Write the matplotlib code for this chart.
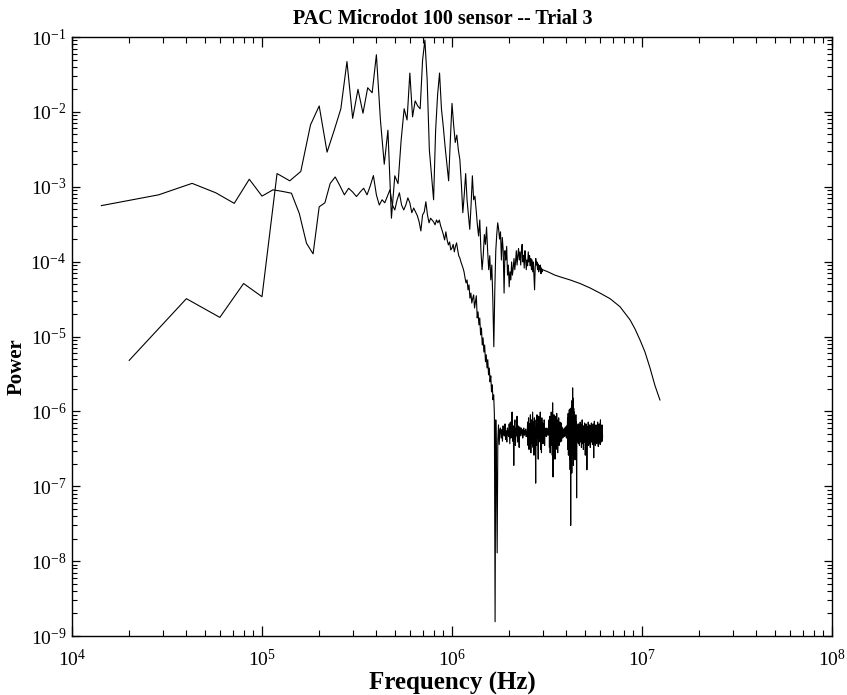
import numpy as np
import matplotlib.pyplot as plt
from matplotlib.ticker import LogLocator, NullFormatter

plt.rcParams['font.family'] = 'serif'
plt.rcParams['font.serif'] = ['Liberation Serif', 'DejaVu Serif']
plt.rcParams['mathtext.fontset'] = 'stix'

# --- series A: flat ~1e-3 spectrum falling into the ~5e-7 noise floor
a_df = 1e5 / 7  # bin spacing (Hz)
a_power = [
    5.6e-4, 7.8e-4, 1.11e-3, 8.3e-4, 6.0e-4, 1.26e-3, 7.5e-4, 9.1e-4, 8.65e-4, 8.2e-4,
    4.4e-4, 1.76e-4, 1.27e-4, 5.4e-4, 6.1e-4, 1.11e-3, 1.35e-3, 1.03e-3, 7.8e-4, 9.55e-4,
    8.5e-4, 7.4e-4, 8.5e-4, 9.55e-4, 7.8e-4, 1.03e-3, 1.41e-3, 7.8e-4, 5.7e-4, 6.7e-4,
    6.1e-4, 7.5e-4, 9.1e-4, 5.7e-4, 4.9e-4, 6.7e-4, 8.3e-4, 5.7e-4, 4.9e-4, 5.7e-4,
    7.1e-4, 6.1e-4, 4.5e-4, 5.2e-4, 4.6e-4, 4.1e-4, 3.4e-4, 2.57e-4, 4.2e-4, 4.6e-4,
    6.3e-4, 4.2e-4, 3.3e-4, 3.8e-4, 3.6e-4, 3.4e-4, 3.1e-4, 3.6e-4, 3.3e-4, 3.6e-4,
    3.0e-4, 2.65e-4, 2.3e-4, 1.95e-4, 2.5e-4, 1.95e-4, 1.67e-4, 1.83e-4, 1.43e-4, 1.52e-4,
    1.7e-4, 1.35e-4, 1.6e-4, 1.78e-4, 1.43e-4, 1.19e-4, 1.12e-4, 9.9e-5, 9.0e-5, 8.2e-5,
    7.3e-5, 6.05e-5, 5.2e-5, 5.7e-5, 4.2e-5, 4.9e-5, 3.25e-5, 3.8e-5, 2.8e-5, 3.25e-5,
    3.6e-5, 2.4e-5, 2.9e-5, 3.5e-5, 1.77e-5, 2.13e-5, 1.43e-5, 1.77e-5, 1.05e-5, 1.3e-5,
    7.7e-6, 9.6e-6, 6.2e-6, 7.7e-6, 4.6e-6, 5.7e-6, 3.8e-6, 4.9e-6, 3.07e-6, 3.8e-6,
    2.48e-6, 2.98e-6, 1.82e-6, 2.26e-6, 1.43e-6, 1.66e-6, 9.0e-7, 1.55e-9, 7.7e-7, 1.66e-7,
    1.29e-8, 4.2e-7, 6.6e-7, 3.6e-7, 5.7e-7,
]
# noise floor, continuing bins 126..434, in units of 1e-7
a_floor_e7 = [
    6.0, 4.4, 5.7, 4.0, 6.4, 5.0, 4.7, 6.8, 4.2, 5.5, 3.9, 6.0, 5.0, 4.6,
    6.8, 3.7, 7.2, 4.4, 5.8, 9.8, 4.0, 6.4, 1.9, 5.7, 7.7, 3.5, 6.0, 4.7, 8.6, 3.9, 6.4, 5.0, 3.3, 6.2,
    5.5, 4.7, 6.0, 5.0, 5.7, 4.4, 5.3, 6.0, 4.8, 5.5, 5.0, 5.8, 4.6, 5.4, 5.0,
    7.2, 3.5, 8.2, 3.1, 6.8, 4.0, 9.0, 2.8, 7.7, 3.7, 6.4, 9.8, 3.3, 7.2, 2.6, 8.2, 4.2, 6.0, 1.1, 7.7,
    3.5, 9.0, 4.4, 6.8, 2.3, 8.6, 3.9, 7.2, 4.7, 9.8, 3.1, 6.4, 2.8, 8.2, 4.0, 7.0, 3.7, 6.2, 4.4, 7.7,
    3.5, 6.0, 4.7, 5.7,
    5.3, 4.6, 6.0, 5.0, 5.5, 4.8, 5.7, 5.2,
    7.7, 3.3, 8.6, 2.8, 7.2, 4.0, 9.8, 3.5, 8.2, 2.6, 13.0, 1.33, 7.7, 3.1, 9.0, 4.2, 6.8, 2.3, 8.6, 3.7,
    7.2, 4.4, 9.4, 3.1, 6.4, 2.8, 7.7, 4.0, 8.2, 3.5, 6.8, 4.7, 7.2, 3.9, 6.0, 4.4, 7.0, 4.0, 6.2, 4.7,
    5.8, 4.4, 5.5,
    5.0, 5.7, 4.6, 6.0, 5.0, 5.5, 4.7, 6.2, 5.0, 5.6, 4.4, 6.4, 4.8, 5.7,
    8.2, 3.1, 9.4, 2.6, 7.7, 3.5, 10.5, 2.3, 8.6, 1.66, 11.0, 0.3, 9.0, 2.0, 12.0, 1.5, 14.0, 2.6, 20.6, 3.3,
    15.0, 1.9, 11.0, 2.8, 9.8, 3.5, 8.6, 2.25, 7.7, 3.1, 9.0, 3.7, 7.2, 0.7, 6.8, 3.9, 6.0,
    6.4, 4.0, 5.7, 3.7, 6.8, 4.4, 5.3, 3.5, 6.2, 4.7, 7.2, 3.9, 5.5, 4.2, 6.6, 3.3, 5.8, 4.6, 7.7, 3.7,
    6.0, 4.4, 5.3, 3.1, 6.4, 4.8, 5.7, 3.9, 7.0, 4.2, 6.0, 2.6, 5.5, 4.4, 6.8, 3.7, 5.9, 4.6, 1.66, 5.0,
    6.2, 3.9, 5.4, 4.2, 7.2, 3.5, 6.0, 4.8, 5.3, 3.7, 6.6, 4.4, 5.8, 3.3, 6.4, 4.7, 5.5, 4.0, 7.0, 3.9,
    5.7, 4.4, 6.2, 3.6, 5.4, 4.8, 6.8, 4.0, 5.6, 2.4, 6.0, 4.5, 7.4, 3.8, 5.7, 4.2, 6.4, 3.5, 5.3, 4.6,
    6.6, 4.0, 5.8, 3.7, 6.2, 4.4, 5.5, 3.9, 7.2, 4.1, 5.9, 3.4, 6.4, 4.6, 5.6, 4.0, 6.8, 3.8, 5.4, 4.3,
    6.0, 3.6, 7.7, 4.2, 5.7, 4.8, 6.3, 3.9, 5.5, 4.4, 6.6, 4.0, 5.8, 4.5,
]

# --- series B: peaky spectrum settling onto the 1e-4 shoulder
b_df = 2e4
b_power = [
    4.8e-6, 3.2e-5, 1.8e-5, 5.1e-5, 3.4e-5, 1.5e-3, 1.2e-3, 1.6e-3, 6.7e-3, 1.2e-2,
    2.9e-3, 5.7e-3, 1.1e-2, 4.7e-2, 8.2e-3, 2.0e-2, 9.6e-3, 2.1e-2, 1.8e-2, 5.8e-2,
    7.8e-3, 2.0e-3, 5.7e-3, 3.8e-4, 1.4e-3, 1.1e-3, 4.2e-3, 1.1e-2, 7.8e-3, 3.3e-2,
    8.6e-3, 1.4e-2, 1.2e-2, 1.1e-2, 4.9e-2, 9.1e-2, 2.7e-2, 3.1e-3, 1.4e-3, 6.7e-4,
    5.7e-3, 1.7e-2, 3.3e-2, 1.1e-2, 6.3e-3, 3.4e-3, 2.0e-3, 1.2e-3, 4.2e-3, 1.3e-2,
    6.7e-3, 3.9e-3, 4.9e-3, 3.1e-3, 2.3e-3, 1.1e-3, 4.5e-4, 7.8e-4, 1.5e-3, 6.7e-4,
    4.2e-4, 2.7e-4, 5.7e-4, 1.4e-3, 6.7e-4, 7.5e-4, 4.9e-4, 3.1e-4, 2.2e-4, 3.6e-4,
    1.4e-4, 7.8e-5, 1.2e-4, 2.3e-4, 1.7e-4, 2.9e-4, 1.4e-4, 7.8e-5, 1.2e-4, 5.7e-5,
    9.0e-5, 3.1e-5, 7.3e-6, 4.2e-5, 1.4e-4, 2.3e-4, 3.3e-4, 2.7e-4, 2.0e-4, 2.5e-4,
    1.05e-4, 2.1e-4, 1.4e-4, 3.8e-5, 1.4e-4, 1.05e-4, 1.6e-4, 6.6e-5, 9.0e-5, 4.6e-5,
    7.3e-5, 5.7e-5, 9.9e-5, 6.6e-5, 8.2e-5, 1.1e-4, 7.8e-5, 9.9e-5, 1.4e-4, 9.0e-5,
    1.2e-4, 1.5e-4, 1.05e-4, 1.35e-4, 9.0e-5, 1.4e-4, 1.7e-4, 9.9e-5, 1.2e-4, 8.2e-5,
    1.4e-4, 1.1e-4, 7.8e-5, 1.05e-4, 8.8e-5, 1.35e-4, 9.9e-5, 1.2e-4, 8.8e-5, 1.1e-4,
    7.8e-5, 1.05e-4, 7.3e-5, 9.9e-5, 6.6e-5, 4.2e-5, 8.2e-5, 1.1e-4, 9.0e-5, 9.9e-5,
    7.8e-5, 9.3e-5, 7.3e-5, 8.8e-5, 7.8e-5, 9.0e-5, 6.9e-5, 8.2e-5, 7.3e-5, 7.8e-5,
]
b_tail_freq = [3.2e6, 3.48e6, 3.79e6, 4.18e6, 4.72e6, 5.33e6, 6.01e6, 6.79e6,
               7.66e6, 8.65e6, 9.19e6, 9.76e6, 1.037e7, 1.102e7, 1.171e7, 1.243e7]
b_tail_power = [7.3e-5, 6.6e-5, 6.15e-5, 5.7e-5, 5.1e-5, 4.45e-5, 3.8e-5, 3.2e-5,
                2.5e-5, 1.67e-5, 1.26e-5, 9.0e-6, 6.2e-6, 3.8e-6, 2.2e-6, 1.42e-6]

a_p = np.concatenate([a_power, np.array(a_floor_e7) * 1e-7])
a_f = a_df * np.arange(1, len(a_p) + 1)
b_f = np.concatenate([b_df * np.arange(1, len(b_power) + 1), b_tail_freq])
b_p = np.concatenate([b_power, b_tail_power])

fig = plt.figure(figsize=(8.47, 6.95), dpi=100)
ax = fig.add_axes([72 / 847, 1 - 636 / 695, 760 / 847, 599 / 695])

ax.loglog(a_f, a_p, color='black', lw=0.8)
ax.loglog(b_f, b_p, color='black', lw=0.8)

ax.set_xlim(1e4, 1e8)
ax.set_ylim(1e-9, 1e-1)

ax.xaxis.set_major_locator(LogLocator(base=10, numticks=20))
ax.yaxis.set_major_locator(LogLocator(base=10, numticks=20))
ax.xaxis.set_minor_locator(LogLocator(base=10, subs=np.arange(2, 10), numticks=100))
ax.yaxis.set_minor_locator(LogLocator(base=10, subs=np.arange(2, 10), numticks=100))
ax.xaxis.set_minor_formatter(NullFormatter())
ax.yaxis.set_minor_formatter(NullFormatter())

ax.tick_params(which='both', direction='in', top=True, right=True, labelsize=14)
ax.tick_params(axis='x', which='major', length=7, width=0.9, pad=9)
ax.tick_params(axis='x', which='minor', length=4, width=0.8)
ax.tick_params(axis='y', which='major', length=6, width=0.9, pad=4)
ax.tick_params(axis='y', which='minor', length=3.5, width=0.8)
for s in ax.spines.values():
    s.set_linewidth(1.0)

ax.set_title('PAC Microdot 100 sensor -- Trial 3', fontsize=14.5, fontweight='bold',
             x=0.488, pad=9)
ax.set_xlabel('Frequency (Hz)', fontsize=18, fontweight='bold')
ax.xaxis.set_label_coords(0.5, -0.06)
ax.set_ylabel('Power', fontsize=15, fontweight='bold')
ax.yaxis.set_label_coords(-0.06, 0.449)

fig.savefig('out.png', dpi=100)
